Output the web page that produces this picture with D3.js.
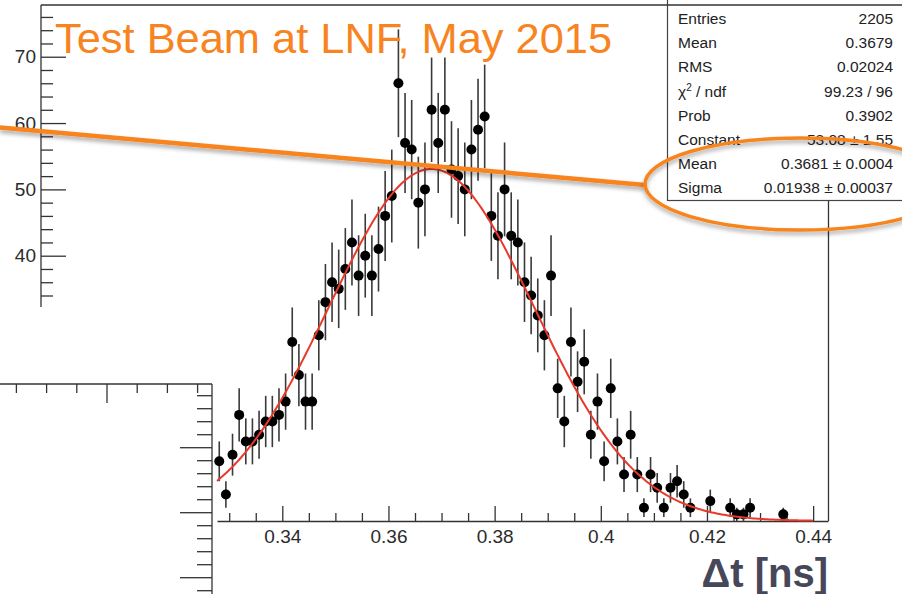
<!DOCTYPE html>
<html>
<head>
<meta charset="utf-8">
<script src="https://cdn.jsdelivr.net/npm/d3@7"></script>
<style>
  html, body { margin: 0; padding: 0; background: #fff; }
  svg { display: block; font-family: "Liberation Sans", Arial, Helvetica, sans-serif; }
</style>
</head>
<body>
<svg id="chart" width="902" height="594"></svg>
<script>
'use strict';

// histogram: 0.00125 ns bins starting at 0.3275, counts (0 = empty bin)
var binLow = 0.3275;
var binWidth = 0.00125;
var counts = [
  9, 4, 10, 16, 12, 12, 13, 15, 15, 16,
  18, 27, 22, 18, 18, 28, 33, 36, 35, 38,
  42, 37, 40, 37, 41, 46, 49, 66, 57, 56,
  48, 50, 62, 57, 62, 53, 52, 50, 56, 59,
  61, 46, 43, 50, 43, 42, 36, 34, 31, 28,
  37, 20, 15, 27, 21, 24, 13, 18, 9, 20,
  12, 7, 13, 7, 2, 7, 5, 2, 5, 6,
  4, 2, 0, 0, 3, 0, 0, 2, 1, 1,
  2, 0, 0, 0, 0, 1
];

// gaussian fit (from the stats box)
var fitConstant = 53.08;
var fitMean = 0.3681;
var fitSigma = 0.01938;
var fitRange = [0.3277, 0.44];

var xMajor = [0.34, 0.36, 0.38, 0.40, 0.42, 0.44];
var xMajorLabels = ['0.34', '0.36', '0.38', '0.4', '0.42', '0.44'];
var xMinor = [0.33, 0.335, 0.345, 0.35, 0.355, 0.365, 0.37, 0.375, 0.385, 0.39, 0.395,
              0.405, 0.41, 0.415, 0.425, 0.43, 0.435];
var yMajor = [40, 50, 60, 70];
var yMinor = [34, 36, 38, 42, 44, 46, 48, 52, 54, 56, 58, 62, 64, 66, 68, 72, 74, 76];

var statsLabels = ['Entries', 'Mean', 'RMS', 'chi2', 'Prob', 'Constant', 'Mean', 'Sigma'];
var statsValues = ['2205', '0.3679', '0.02024', '99.23 / 96', '0.3902',
                   '53.08 \u00b1 1.55', '0.3681 \u00b1 0.0004', '0.01938 \u00b1 0.00037'];

// orange annotation, in data units (ns, counts)
var annoLine = [[0.28682, 59.33], [0.40833, 50.66]];
var annoEllipse = { cx: 0.43753, cy: 50.81, rx: 0.0292, ry: 6.94 };

var orange = '#f7841f';
var axisCol = '#333';

var svg = d3.select('#chart');

var x = d3.scaleLinear().domain([0.3277, 0.4428]).range([217, 828]);
var y = d3.scaleLinear().domain([0, 77.8]).range([521, 5]);

// fragment of a second frame at lower left
var fragX = d3.scaleLinear().domain([0, 10]).range([-44, 258]);
var fragY = d3.scaleLinear().domain([0, 15]).range([382.7, 577.7]);

var defs = svg.append('defs');
var shadow = defs.append('filter').attr('id', 'shadow')
	.attr('x', '-10%').attr('y', '-50%').attr('width', '120%').attr('height', '200%');
shadow.append('feDropShadow')
	.attr('dx', 0).attr('dy', 3).attr('stdDeviation', 2)
	.attr('flood-color', '#000').attr('flood-opacity', 0.35);

// --- lower-left fragment
var frag = svg.append('g').attr('stroke', axisCol).attr('stroke-width', 1.3);
frag.append('line').attr('x1', 0).attr('x2', 212).attr('y1', 384).attr('y2', 384);
frag.append('line').attr('x1', 212).attr('x2', 212).attr('y1', 384).attr('y2', 594);
frag.selectAll('.fx').data(d3.range(2, 9)).enter().append('line')
	.attr('x1', function(d) { return fragX(d); })
	.attr('x2', function(d) { return fragX(d); })
	.attr('y1', 384)
	.attr('y2', function(d) { return d % 5 === 0 ? 403 : 393; });
frag.selectAll('.fy').data(d3.range(1, 17)).enter().append('line')
	.attr('y1', function(d) { return fragY(d); })
	.attr('y2', function(d) { return fragY(d); })
	.attr('x1', 212)
	.attr('x2', function(d) { return d % 5 === 0 ? 180 : 197; });

// --- frame
var frame = svg.append('g').attr('stroke', axisCol).attr('stroke-width', 1.3).attr('fill', 'none');
frame.append('line').attr('x1', 41).attr('x2', 41).attr('y1', 5).attr('y2', 307);
frame.append('line').attr('x1', 828.5).attr('x2', 828.5).attr('y1', 200).attr('y2', 521);

// --- x axis
var xAxis = d3.axisBottom(x).tickValues(xMajor)
	.tickFormat(function(d, i) { return xMajorLabels[i]; })
	.tickSize(-15).tickSizeOuter(0).tickPadding(9);
var gx = svg.append('g').attr('transform', 'translate(0,521)').call(xAxis);
gx.select('.domain').attr('stroke', axisCol).attr('stroke-width', 1.3);
gx.selectAll('.tick line').attr('stroke', axisCol).attr('stroke-width', 1.3);
gx.selectAll('.tick text').attr('font-size', 19).attr('fill', '#2b2b2b')
	.attr('font-family', '"Liberation Sans", Arial, Helvetica, sans-serif');

var xAxisMinor = d3.axisBottom(x).tickValues(xMinor).tickFormat('').tickSize(-8).tickSizeOuter(0);
var gxm = svg.append('g').attr('transform', 'translate(0,521)').call(xAxisMinor);
gxm.select('.domain').remove();
gxm.selectAll('.tick line').attr('stroke', axisCol).attr('stroke-width', 1.3);

// --- y axis (upper left)
var yAxis = d3.axisLeft(y).tickValues(yMajor).tickSize(-25).tickPadding(5);
var gy = svg.append('g').attr('transform', 'translate(41,0)').call(yAxis);
gy.select('.domain').remove();
gy.selectAll('.tick line').attr('stroke', axisCol).attr('stroke-width', 1.3);
gy.selectAll('.tick text').attr('font-size', 19).attr('fill', '#2b2b2b')
	.attr('font-family', '"Liberation Sans", Arial, Helvetica, sans-serif');

var yAxisMinor = d3.axisLeft(y).tickValues(yMinor).tickFormat('').tickSize(-12);
var gym = svg.append('g').attr('transform', 'translate(41,0)').call(yAxisMinor);
gym.select('.domain').remove();
gym.selectAll('.tick line').attr('stroke', axisCol).attr('stroke-width', 1.3);

// --- histogram points
var bins = counts.map(function(c, i) {
	return { x: binLow + binWidth * (i + 0.5), n: c };
}).filter(function(d) { return d.n > 0; });

var g = svg.append('g');
g.selectAll('line.err').data(bins).enter().append('line')
	.attr('class', 'err')
	.attr('x1', function(d) { return x(d.x); })
	.attr('x2', function(d) { return x(d.x); })
	.attr('y1', function(d) { return y(d.n + Math.sqrt(d.n)); })
	.attr('y2', function(d) { return y(d.n - Math.sqrt(d.n)); })
	.attr('stroke', '#3a3a3a')
	.attr('stroke-width', 1.6);

g.selectAll('circle').data(bins).enter().append('circle')
	.attr('cx', function(d) { return x(d.x); })
	.attr('cy', function(d) { return y(d.n); })
	.attr('r', 5)
	.attr('fill', '#000');

// --- fit curve
var gauss = function(t) {
	var z = (t - fitMean) / fitSigma;
	return fitConstant * Math.exp(-0.5 * z * z);
};
var fitPts = d3.range(0, 301).map(function(i) {
	var t = fitRange[0] + (fitRange[1] - fitRange[0]) * i / 300;
	return [t, gauss(t)];
});
svg.append('path')
	.datum(fitPts)
	.attr('d', d3.line().x(function(d) { return x(d[0]); }).y(function(d) { return y(d[1]); }))
	.attr('fill', 'none')
	.attr('stroke', '#e8392b')
	.attr('stroke-width', 2);

// --- stats box
var stats = svg.append('g');
stats.append('rect')
	.attr('x', 667.5).attr('y', -2).attr('width', 240).attr('height', 202.5)
	.attr('fill', '#fff').attr('stroke', '#444').attr('stroke-width', 1.2);
statsLabels.forEach(function(lab, i) {
	var yy = 24 + 24.2 * i;
	var t = stats.append('text').attr('x', 678).attr('y', yy)
		.attr('font-size', 15.5).attr('fill', '#222');
	if (lab === 'chi2') {
		t.append('tspan').text('\u03c7');
		t.append('tspan').attr('font-size', 10).attr('dy', -6).text('2');
		t.append('tspan').attr('dy', 6).text(' / ndf');
	} else {
		t.text(lab);
	}
	stats.append('text').attr('x', 893).attr('y', yy)
		.attr('text-anchor', 'end')
		.attr('font-size', 15.5).attr('fill', '#222')
		.text(statsValues[i]);
});

// top frame line
svg.append('line').attr('x1', 41).attr('x2', 902).attr('y1', 5).attr('y2', 5)
	.attr('stroke', axisCol).attr('stroke-width', 1.3);

// --- titles
svg.append('text')
	.attr('x', 55).attr('y', 53)
	.attr('font-size', 43.4)
	.attr('fill', orange)
	.text('Test Beam at LNF, May 2015');

svg.append('text')
	.attr('x', 828).attr('y', 587)
	.attr('text-anchor', 'end')
	.attr('font-size', 40)
	.attr('font-weight', 'bold')
	.attr('fill', '#47475a')
	.text('\u0394t [ns]');

// --- orange annotation
svg.append('line')
	.attr('x1', x(annoLine[0][0])).attr('y1', y(annoLine[0][1]))
	.attr('x2', x(annoLine[1][0])).attr('y2', y(annoLine[1][1]))
	.attr('stroke', orange).attr('stroke-width', 4.5)
	.attr('filter', 'url(#shadow)');

svg.append('ellipse')
	.attr('cx', x(annoEllipse.cx)).attr('cy', y(annoEllipse.cy))
	.attr('rx', x(annoEllipse.cx + annoEllipse.rx) - x(annoEllipse.cx))
	.attr('ry', y(annoEllipse.cy - annoEllipse.ry) - y(annoEllipse.cy))
	.attr('fill', 'none')
	.attr('stroke', orange).attr('stroke-width', 3.5)
	.attr('filter', 'url(#shadow)');
</script>
</body>
</html>
